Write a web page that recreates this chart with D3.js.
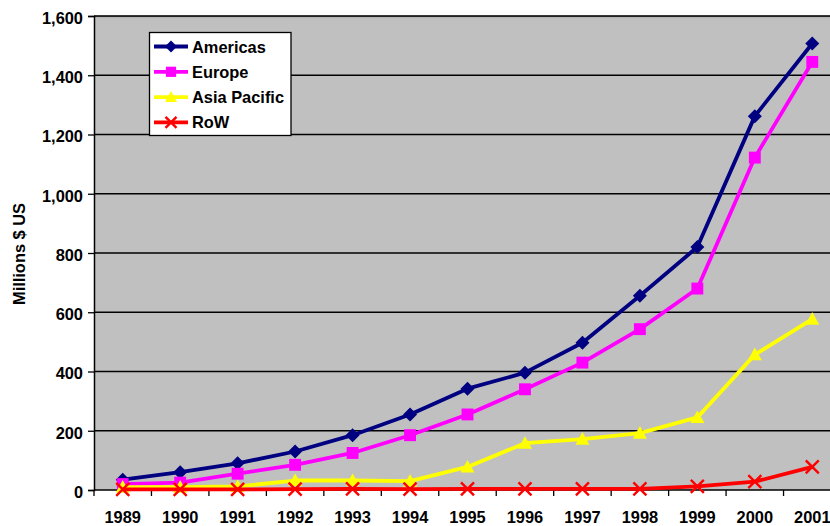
<!DOCTYPE html>
<html>
<head>
<meta charset="utf-8">
<script src="https://cdn.jsdelivr.net/npm/d3@7"></script>
<style>
body { margin:0; background:#fff; }
text { font-family:"Liberation Sans", Arial, sans-serif; font-weight:bold; }
</style>
</head>
<body>
<svg id="chart"></svg>
<script>
var years = [1989,1990,1991,1992,1993,1994,1995,1996,1997,1998,1999,2000,2001];
var americas = [35,60,90,130,185,255,342,396,497,656,820,1262,1507];
var europe = [20,25,55,85,125,185,255,340,430,543,680,1122,1445];
var asiaPacific = [10,10,12,32,32,30,78,158,172,192,245,457,577];
var row = [2,2,2,3,4,3,4,4,4,4,12,28,78];
var yTicks = [0,200,400,600,800,1000,1200,1400,1600];

var series = [
    {name:"Americas", values:americas, color:"#000080", marker:"diamond"},
    {name:"Europe", values:europe, color:"#FF00FF", marker:"square"},
    {name:"Asia Pacific", values:asiaPacific, color:"#FFFF00", marker:"triangle"},
    {name:"RoW", values:row, color:"#FF0000", marker:"x"}
];

var screen = {width:830, height:526};
var plot = {left:94, top:16, right:841, bottom:490};
var fontSize = 16.4;

var svg = d3.select("#chart")
    .attr("width", screen.width)
    .attr("height", screen.height);

var xScale = d3.scaleBand()
    .domain(years)
    .range([plot.left, plot.right]);
var yScale = d3.scaleLinear()
    .domain([0,1600])
    .range([plot.bottom, plot.top]);
var cx = function(year){ return xScale(year) + xScale.bandwidth()/2; };

//plot area
svg.append("rect")
    .attr("x", plot.left)
    .attr("y", plot.top)
    .attr("width", plot.right-plot.left)
    .attr("height", plot.bottom-plot.top)
    .attr("fill", "#C0C0C0");
svg.append("line")
    .attr("x1", plot.left).attr("x2", plot.right)
    .attr("y1", plot.top+0.5).attr("y2", plot.top+0.5)
    .attr("stroke", "#8a8a8a").attr("stroke-width", 1.5);

//gridlines
svg.append("g")
    .selectAll("line")
    .data(yTicks.slice(1))
    .enter()
    .append("line")
    .attr("x1", plot.left).attr("x2", plot.right)
    .attr("y1", function(d){return yScale(d)})
    .attr("y2", function(d){return yScale(d)})
    .attr("stroke", "#000")
    .attr("stroke-width", 1.3);

//y axis
var yAxis = d3.axisLeft(yScale)
    .tickValues(yTicks)
    .tickSize(6)
    .tickPadding(5)
    .tickFormat(d3.format(","));
var ya = svg.append("g")
    .attr("transform", "translate("+plot.left+",0)")
    .call(yAxis);
ya.select(".domain").attr("stroke", "#000").attr("stroke-width", 1.5);
ya.selectAll(".tick line").attr("stroke", "#000").attr("stroke-width", 1.3);
ya.selectAll(".tick text")
    .attr("font-size", fontSize)
    .attr("dy", "0.45em")
    .attr("fill", "#000");

//x axis
var xAxis = d3.axisBottom(xScale).tickSize(0).tickPadding(21);
var xa = svg.append("g")
    .attr("transform", "translate(0,"+plot.bottom+")")
    .call(xAxis);
xa.select(".domain").remove();
xa.selectAll(".tick text")
    .attr("font-size", fontSize)
    .attr("fill", "#000");
svg.append("line")
    .attr("x1", plot.left).attr("x2", plot.right)
    .attr("y1", plot.bottom).attr("y2", plot.bottom)
    .attr("stroke", "#000").attr("stroke-width", 1.5);
svg.append("g")
    .selectAll("line")
    .data(years)
    .enter()
    .append("line")
    .attr("x1", function(d){return xScale(d)})
    .attr("x2", function(d){return xScale(d)})
    .attr("y1", plot.bottom).attr("y2", plot.bottom+6)
    .attr("stroke", "#000").attr("stroke-width", 1.3);

//y title
svg.append("text")
    .text("Millions $ US")
    .attr("font-size", fontSize)
    .attr("text-anchor", "middle")
    .attr("transform", "translate(25,254) rotate(-90)");

//markers
var drawMarker = function(g, type, color, x, y, s)
{
    if (type == "diamond") {
        g.append("path")
            .attr("d", "M"+x+","+(y-s)+"L"+(x+s)+","+y+"L"+x+","+(y+s)+"L"+(x-s)+","+y+"Z")
            .attr("fill", color);
    } else if (type == "square") {
        g.append("rect")
            .attr("x", x-s*0.85).attr("y", y-s*0.85)
            .attr("width", s*1.7).attr("height", s*1.7)
            .attr("fill", color);
    } else if (type == "triangle") {
        g.append("path")
            .attr("d", "M"+x+","+(y-s)+"L"+(x+s)+","+(y+s*0.8)+"L"+(x-s)+","+(y+s*0.8)+"Z")
            .attr("fill", color);
    } else {
        g.append("path")
            .attr("d", "M"+(x-s)+","+(y-s)+"L"+(x+s)+","+(y+s)+"M"+(x+s)+","+(y-s)+"L"+(x-s)+","+(y+s))
            .attr("stroke", color)
            .attr("stroke-width", 2.4)
            .attr("fill", "none");
    }
};

var linegen = d3.line()
    .x(function(d){return cx(d.year)})
    .y(function(d){return yScale(d.value)});

series.forEach(function(s){
    var pts = years.map(function(y,i){return {year:y, value:s.values[i]}});
    var g = svg.append("g");
    g.append("path")
        .datum(pts)
        .attr("d", linegen)
        .attr("fill", "none")
        .attr("stroke", s.color)
        .attr("stroke-width", 3.8)
        .attr("stroke-linejoin", "round");
    pts.forEach(function(p){
        drawMarker(g, s.marker, s.color, cx(p.year), yScale(p.value), s.marker=="x" ? 6.5 : 7);
    });
});

//legend
var legend = svg.append("g");
legend.append("rect")
    .attr("x", 149.5).attr("y", 32.5)
    .attr("width", 141.5).attr("height", 103)
    .attr("fill", "#fff")
    .attr("stroke", "#000")
    .attr("stroke-width", 1.3);
series.forEach(function(s,i){
    var ly = 46.5 + i*25.3;
    legend.append("line")
        .attr("x1", 154).attr("x2", 188)
        .attr("y1", ly).attr("y2", ly)
        .attr("stroke", s.color)
        .attr("stroke-width", 3.8);
    drawMarker(legend, s.marker, s.color, 171, ly, s.marker=="x" ? 5.5 : 6);
    legend.append("text")
        .text(s.name)
        .attr("x", 192)
        .attr("y", ly+6)
        .attr("font-size", fontSize);
});
</script>
</body>
</html>
